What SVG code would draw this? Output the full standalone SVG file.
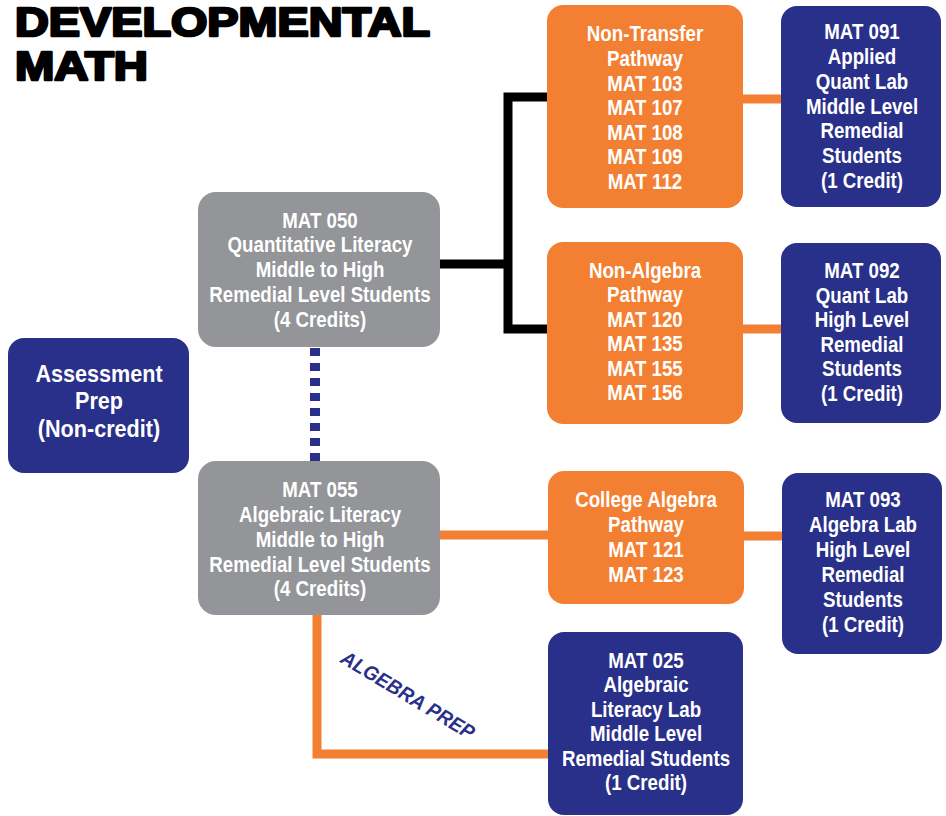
<svg xmlns="http://www.w3.org/2000/svg" width="946" height="816" viewBox="0 0 946 816">
<style>
.t{font-family:"Liberation Sans",Arial,sans-serif;font-weight:bold;font-size:22px;fill:#fff;text-anchor:middle}
.o{fill:#F37F32}
.n{fill:#29308A}
.g{fill:#939598}
.title{font-family:"Liberation Sans",Arial,sans-serif;font-weight:bold;font-size:41px;fill:#000;stroke:#000;stroke-width:2.6;stroke-linejoin:round}
</style>
<rect width="946" height="816" fill="#fff"/>
<g id="title">
<text class="title" x="15" y="36" textLength="415" lengthAdjust="spacingAndGlyphs">DEVELOPMENTAL</text>
<text class="title" x="15" y="80" textLength="133" lengthAdjust="spacingAndGlyphs">MATH</text>
</g>
<g id="connectors" fill="none">
<path d="M440 264 H508 V97 H547 M508 264 V329 H547" stroke="#000" stroke-width="9"/>
<path d="M743 99 H781 M743 329 H781 M440 535 H548 M744 536 H782 M317 615 V754 H548" stroke="#F37F32" stroke-width="9"/>
<path d="M315 348 V461" stroke="#29308A" stroke-width="10" stroke-dasharray="8 7"/>
<text transform="translate(408,695) rotate(31)" y="7" text-anchor="middle" font-family="'Liberation Sans',Arial,sans-serif" font-weight="bold" font-style="italic" font-size="20" fill="#29308A" textLength="152" lengthAdjust="spacingAndGlyphs">ALGEBRA PREP</text>
</g>
<g id="nontransfer">
<rect class="o" x="547" y="5" width="196" height="203" rx="16"/>
<g class="t" transform="translate(645,0) scale(0.85,1)">
<text x="0" y="41.5">Non-Transfer</text><text x="0" y="66">Pathway</text><text x="0" y="90.7">MAT 103</text><text x="0" y="115.3">MAT 107</text><text x="0" y="140">MAT 108</text><text x="0" y="164.5">MAT 109</text><text x="0" y="189">MAT 112</text>
</g>
</g>
<g id="mat091">
<rect class="n" x="781" y="6" width="160" height="201" rx="16"/>
<g class="t" transform="translate(862,0) scale(0.85,1)">
<text x="0" y="39.5">MAT 091</text><text x="0" y="64.2">Applied</text><text x="0" y="89">Quant Lab</text><text x="0" y="113.7">Middle Level</text><text x="0" y="138.5">Remedial</text><text x="0" y="163.2">Students</text><text x="0" y="188">(1 Credit)</text>
</g>
</g>
<g id="nonalgebra">
<rect class="o" x="547" y="242" width="196" height="182" rx="16"/>
<g class="t" transform="translate(645,0) scale(0.85,1)">
<text x="0" y="278">Non-Algebra</text><text x="0" y="302.5">Pathway</text><text x="0" y="327">MAT 120</text><text x="0" y="351.5">MAT 135</text><text x="0" y="376">MAT 155</text><text x="0" y="400.5">MAT 156</text>
</g>
</g>
<g id="mat092">
<rect class="n" x="781" y="243" width="160" height="180" rx="16"/>
<g class="t" transform="translate(862,0) scale(0.85,1)">
<text x="0" y="278.5">MAT 092</text><text x="0" y="303">Quant Lab</text><text x="0" y="327.5">High Level</text><text x="0" y="352">Remedial</text><text x="0" y="376.5">Students</text><text x="0" y="401">(1 Credit)</text>
</g>
</g>
<g id="collegealgebra">
<rect class="o" x="548" y="471" width="196" height="133" rx="16"/>
<g class="t" transform="translate(646,0) scale(0.85,1)">
<text x="0" y="507.5">College Algebra</text><text x="0" y="532.3">Pathway</text><text x="0" y="557.1">MAT 121</text><text x="0" y="582">MAT 123</text>
</g>
</g>
<g id="mat093">
<rect class="n" x="782" y="473" width="160" height="181" rx="16"/>
<g class="t" transform="translate(863,0) scale(0.85,1)">
<text x="0" y="507">MAT 093</text><text x="0" y="532">Algebra Lab</text><text x="0" y="557">High Level</text><text x="0" y="582">Remedial</text><text x="0" y="607">Students</text><text x="0" y="632">(1 Credit)</text>
</g>
</g>
<g id="mat025">
<rect class="n" x="548" y="632" width="195" height="183" rx="16"/>
<g class="t" transform="translate(646,0) scale(0.85,1)">
<text x="0" y="667.7">MAT 025</text><text x="0" y="692.2">Algebraic</text><text x="0" y="716.7">Literacy Lab</text><text x="0" y="741.2">Middle Level</text><text x="0" y="765.7">Remedial Students</text><text x="0" y="790">(1 Credit)</text>
</g>
</g>
<g id="mat050">
<rect class="g" x="198" y="192" width="242" height="155" rx="18"/>
<g class="t" transform="translate(320,0) scale(0.85,1)">
<text x="0" y="227.7">MAT 050</text><text x="0" y="252.5">Quantitative Literacy</text><text x="0" y="277.2">Middle to High</text><text x="0" y="302">Remedial Level Students</text><text x="0" y="326.7">(4 Credits)</text>
</g>
</g>
<g id="mat055">
<rect class="g" x="198" y="461" width="242" height="154" rx="18"/>
<g class="t" transform="translate(320,0) scale(0.85,1)">
<text x="0" y="497.5">MAT 055</text><text x="0" y="522.3">Algebraic Literacy</text><text x="0" y="547">Middle to High</text><text x="0" y="571.8">Remedial Level Students</text><text x="0" y="596.5">(4 Credits)</text>
</g>
</g>
<g id="assessment">
<rect class="n" x="8" y="338" width="181" height="135" rx="16"/>
<g class="t" transform="translate(99,0) scale(0.9,1)" style="font-size:24px">
<text x="0" y="382">Assessment</text><text x="0" y="409.5">Prep</text><text x="0" y="437">(Non-credit)</text>
</g>
</g>
</svg>
